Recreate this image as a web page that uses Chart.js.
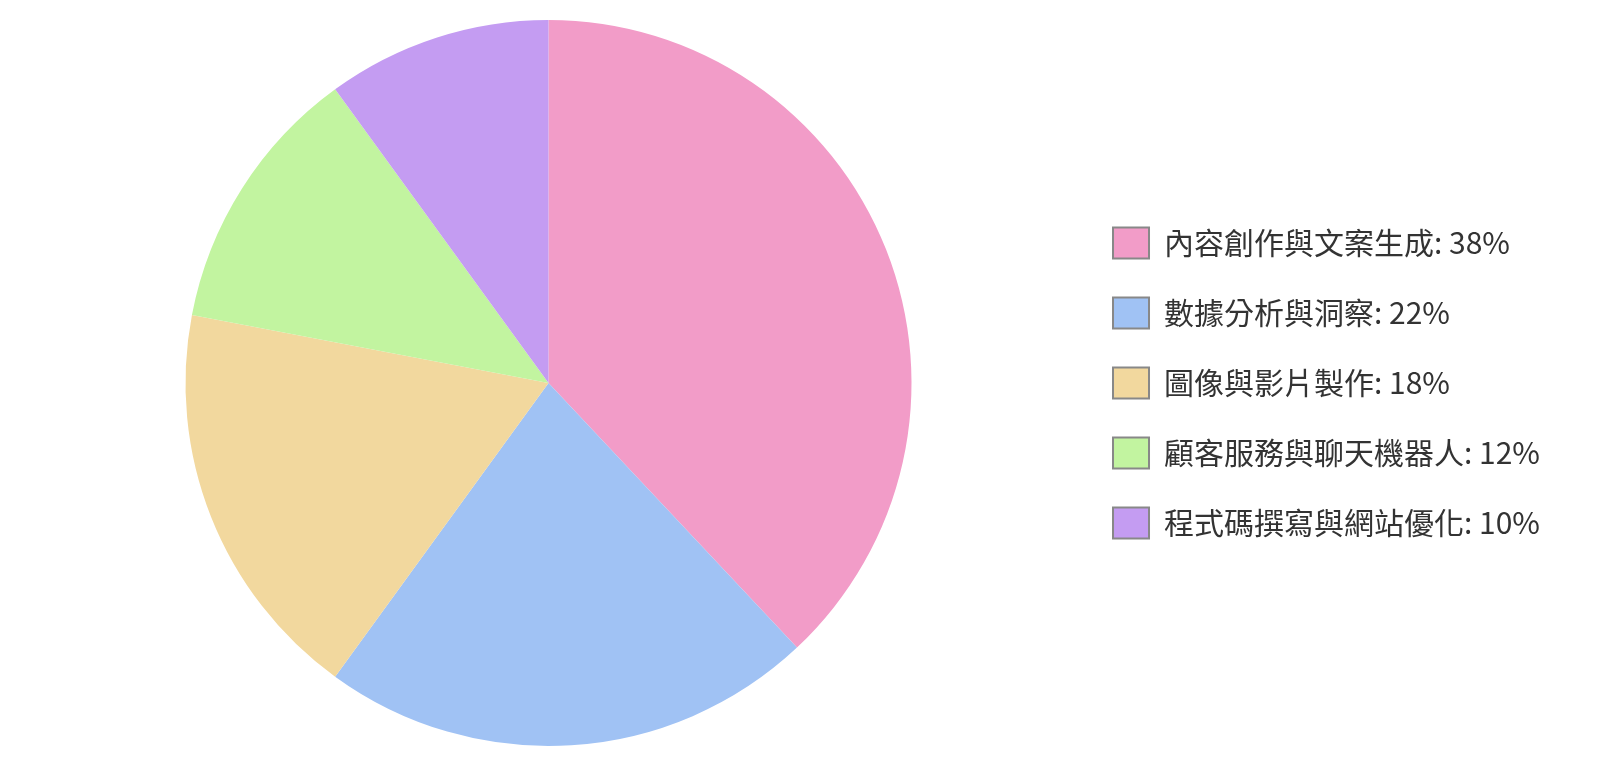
<!DOCTYPE html>
<html>
<head>
<meta charset="utf-8">
<script src="https://cdn.jsdelivr.net/npm/chart.js@4/dist/chart.umd.min.js"></script>
<style>
  html, body { margin: 0; padding: 0; background: #fff; }
  #wrap { width: 1600px; height: 765px; position: relative; }
</style>
</head>
<body>
<div id="wrap"><canvas id="pie"></canvas></div>
<script>
// AI 應用領域占比
const labels = ['內容創作與文案生成', '數據分析與洞察', '圖像與影片製作', '顧客服務與聊天機器人', '程式碼撰寫與網站優化']
const shares = [38, 22, 18, 12, 10]
const colors = ['#F29CC8', '#A0C2F4', '#F2D89E', '#C2F4A0', '#C49CF2']

const FONT = "'Noto Sans CJK TC', 'Noto Sans', sans-serif"

new Chart(document.getElementById('pie'), {
  type: 'pie',
  data: {
    labels,
    datasets: [{
      data: shares,
      backgroundColor: colors,
      borderWidth: 0,
    }],
  },
  options: {
    responsive: true,
    maintainAspectRatio: false,
    animation: false,
    layout: { padding: { top: 20, bottom: 19, left: 23, right: 50 } },
    plugins: {
      tooltip: { enabled: false },
      legend: {
        position: 'right',
        labels: {
          font: { size: 30, family: FONT },
          color: '#333',
          boxWidth: 36,
          boxHeight: 31,
          padding: 39,
          generateLabels: chart => {
            const ds = chart.data.datasets[0]
            return chart.data.labels.map((l, i) => ({
              text: `${l}: ${ds.data[i]}%`,
              fillStyle: colors[i],
              strokeStyle: '#888',
              lineWidth: 2,
              fontColor: '#333',
              index: i,
            }))
          },
        },
      },
    },
  },
})
</script>
</body>
</html>
